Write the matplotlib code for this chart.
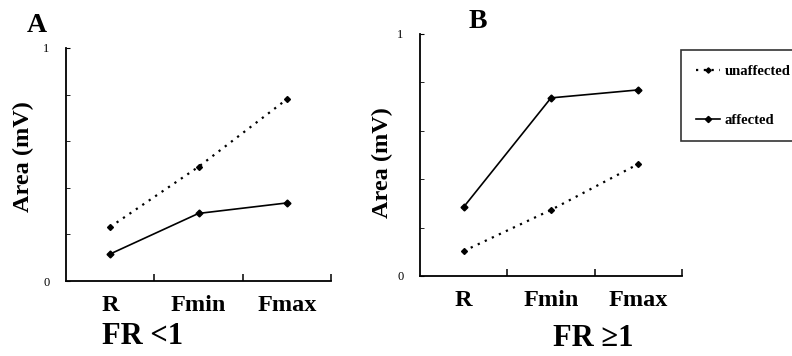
import matplotlib
matplotlib.use("Agg")
import matplotlib.pyplot as plt

plt.rcParams['font.family'] = ['Liberation Serif', 'DejaVu Serif']
plt.rcParams['font.weight'] = 'bold'

# categories and values
cats = ["R", "Fmin", "Fmax"]
a_unaffected = [0.232, 0.49, 0.78]
a_affected = [0.116, 0.29, 0.335]
b_unaffected = [0.103, 0.273, 0.463]
b_affected = [0.285, 0.736, 0.769]

W, H = 792, 356
fig = plt.figure(figsize=(W / 100, H / 100), dpi=100)


def px(x0, y0, x1, y1):
    # axes rect from pixel box
    return [x0 / W, 1 - y1 / H, (x1 - x0) / W, (y1 - y0) / H]


def panel(rect, unaff, aff):
    ax = fig.add_axes(rect)
    x = [1, 2, 3]
    ax.plot(x, unaff, color='black', lw=1.6, dashes=(1, 2.5),
            marker='D', ms=3, label='unaffected')
    ax.plot(x, aff, color='black', lw=1.2, marker='D', ms=3.5,
            label='affected')
    ax.set_xlim(0.5, 3.5)
    ax.set_ylim(0, 1)
    ax.spines['top'].set_visible(False)
    ax.spines['right'].set_visible(False)
    ax.spines['left'].set_linewidth(1.3)
    ax.spines['bottom'].set_linewidth(1.3)
    ax.set_xticks(x)
    ax.set_xticklabels(cats, fontsize=17.5, fontweight='bold')
    ax.tick_params(axis='x', which='major', length=0, pad=10)
    ax.set_xticks([1.5, 2.5, 3.5], minor=True)
    ax.tick_params(axis='x', which='minor', direction='in', length=5, width=1.1)
    ax.set_yticks([0, 1])
    ax.set_yticklabels(['0', '1'], fontsize=9, fontweight='normal')
    ax.tick_params(axis='y', which='major', direction='in', length=3, pad=12)
    ax.set_yticks([0.2, 0.4, 0.6, 0.8], minor=True)
    ax.tick_params(axis='y', which='minor', direction='in', length=3)
    return ax


axA = panel(px(66, 48, 331, 281), a_unaffected, a_affected)
axB = panel(px(420, 34, 682, 276), b_unaffected, b_affected)

fig.text(37 / W, 1 - 25 / H, "A", fontsize=20, ha='center', va='center')
fig.text(478 / W, 1 - 21 / H, "B", fontsize=20, ha='center', va='center')

fig.text(23 / W, 1 - 157 / H, "Area (mV)", fontsize=17.5, rotation=90,
         ha='center', va='center')
fig.text(382 / W, 1 - 163 / H, "Area (mV)", fontsize=17.5, rotation=90,
         ha='center', va='center')

fig.text(143 / W, 1 - 337 / H, "FR <1", fontsize=22, ha='center', va='center')
fig.text(593 / W, 1 - 338 / H, "FR \u22651", fontsize=22, ha='center', va='center')

handles, labels = axB.get_legend_handles_labels()
leg = fig.legend(handles, labels, loc='upper left',
                 bbox_to_anchor=(681 / W, 1 - 50 / H),
                 fontsize=10.5, frameon=True, fancybox=False,
                 edgecolor='black', handlelength=1.7, handletextpad=0.3,
                 labelspacing=2.45, borderpad=1.0, borderaxespad=0,
                 markerscale=0.9)
leg.get_frame().set_linewidth(1.2)

fig.savefig("out.png", dpi=100)
